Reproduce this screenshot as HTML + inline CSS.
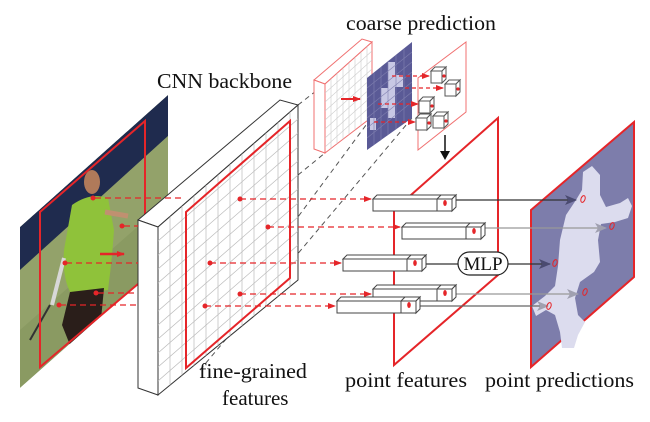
<!DOCTYPE html>
<html><head><meta charset="utf-8"><style>html,body{margin:0;padding:0;background:#fff}svg{display:block}</style></head>
<body>
<svg width="650" height="422" viewBox="0 0 650 422" xmlns="http://www.w3.org/2000/svg" font-family="Liberation Serif, serif">
<defs>
<marker id="ar" markerWidth="8" markerHeight="8" refX="7" refY="4" orient="auto" markerUnits="userSpaceOnUse"><path d="M0,1 L8,4 L0,7 z" fill="#e52529"/></marker>
<marker id="ad" markerWidth="12" markerHeight="10" refX="11" refY="5" orient="auto" markerUnits="userSpaceOnUse"><path d="M0,0 L12,5 L0,10 L3,5 z" fill="#4a4a70"/></marker>
<marker id="ag" markerWidth="12" markerHeight="10" refX="11" refY="5" orient="auto" markerUnits="userSpaceOnUse"><path d="M0,0 L12,5 L0,10 L3,5 z" fill="#a0a0b0"/></marker>
<clipPath id="cf"><polygon points="158,227 298,105 298,280 158,395"/></clipPath>
<clipPath id="cc"><polygon points="325,84 372,42 372,117 325,153"/></clipPath>
<clipPath id="cp"><polygon points="367,78 412,42 412,118 367,150"/></clipPath>
<clipPath id="ph"><polygon points="20,227 168,95 168,257 20,388"/></clipPath>
</defs>

<!-- photo -->
<g clip-path="url(#ph)">
<polygon points="20,227 168,95 168,257 20,388" fill="#8a9a62"/>
<polygon points="20,227 168,95 168,136 20,270" fill="#1f2b4e"/>
<polygon points="20,270 168,136 168,200 20,330" fill="#9aa870" opacity="0.6"/>
<ellipse cx="92" cy="182" rx="8" ry="12" fill="#b07a5a"/>
<path d="M72,205 Q90,192 108,198 L114,230 Q112,260 108,290 L72,295 Q62,280 64,250 Z" fill="#8fc23a"/>
<path d="M70,292 L104,288 L100,330 L72,350 L62,325 Z" fill="#2a1e1a"/>
<line x1="105" y1="212" x2="128" y2="216" stroke="#c09070" stroke-width="5"/>
<line x1="64" y1="258" x2="52" y2="305" stroke="#d8d8d8" stroke-width="4"/>
<line x1="50" y1="305" x2="30" y2="340" stroke="#333" stroke-width="2"/>
</g>
<polygon points="40,212 145,121 145,278 40,367" fill="none" stroke="#e52529" stroke-width="2"/>
<line x1="100" y1="254" x2="124" y2="254" stroke="#e52529" stroke-width="2.5" marker-end="url(#ar)"/>

<!-- gray dashed perspective lines -->
<g stroke="#555" stroke-width="1" stroke-dasharray="5,4" fill="none">
<line x1="298" y1="105" x2="325" y2="84"/>
<line x1="298" y1="175" x2="325" y2="153"/>
<line x1="186" y1="368" x2="372" y2="117"/>
<line x1="200" y1="370" x2="412" y2="118"/>
</g>

<!-- CNN backbone -->
<polygon points="138,220 280,100 298,105 158,227" fill="#fff" stroke="#333" stroke-width="1"/>
<polygon points="138,220 158,227 158,395 138,388" fill="#fff" stroke="#333" stroke-width="1"/>
<polygon points="158,227 298,105 298,280 158,395" fill="#fff" stroke="#333" stroke-width="1"/>
<g clip-path="url(#cf)" stroke="#bbb" stroke-width="0.7">
<line x1="170" y1="100" x2="170" y2="400"/><line x1="182" y1="100" x2="182" y2="400"/><line x1="194" y1="100" x2="194" y2="400"/><line x1="206" y1="100" x2="206" y2="400"/><line x1="218" y1="100" x2="218" y2="400"/><line x1="230" y1="100" x2="230" y2="400"/><line x1="242" y1="100" x2="242" y2="400"/><line x1="254" y1="100" x2="254" y2="400"/><line x1="266" y1="100" x2="266" y2="400"/><line x1="278" y1="100" x2="278" y2="400"/><line x1="290" y1="100" x2="290" y2="400"/>
<line x1="158" y1="241" x2="298" y2="119"/><line x1="158" y1="255" x2="298" y2="133"/><line x1="158" y1="269" x2="298" y2="147"/><line x1="158" y1="283" x2="298" y2="161"/><line x1="158" y1="297" x2="298" y2="175"/><line x1="158" y1="311" x2="298" y2="189"/><line x1="158" y1="325" x2="298" y2="203"/><line x1="158" y1="339" x2="298" y2="217"/><line x1="158" y1="353" x2="298" y2="231"/><line x1="158" y1="367" x2="298" y2="245"/><line x1="158" y1="381" x2="298" y2="259"/>
</g>
<polygon points="186,212 290,121 290,278 186,368" fill="none" stroke="#e52529" stroke-width="2"/>

<!-- coarse block -->
<polygon points="314,80 362,39 372,42 325,84" fill="#fff" stroke="#f07070" stroke-width="1"/>
<polygon points="314,80 325,84 325,153 314,149" fill="#fff" stroke="#f07070" stroke-width="1"/>
<polygon points="325,84 372,42 372,117 325,153" fill="#fff" stroke="#f07070" stroke-width="1"/>
<g clip-path="url(#cc)" stroke="#ccc" stroke-width="0.6">
<line x1="331" y1="40" x2="331" y2="160"/><line x1="337" y1="40" x2="337" y2="160"/><line x1="343" y1="40" x2="343" y2="160"/><line x1="349" y1="40" x2="349" y2="160"/><line x1="355" y1="40" x2="355" y2="160"/><line x1="361" y1="40" x2="361" y2="160"/><line x1="367" y1="40" x2="367" y2="160"/>
<line x1="325" y1="93" x2="372" y2="51"/><line x1="325" y1="102" x2="372" y2="60"/><line x1="325" y1="111" x2="372" y2="69"/><line x1="325" y1="120" x2="372" y2="78"/><line x1="325" y1="129" x2="372" y2="87"/><line x1="325" y1="138" x2="372" y2="96"/><line x1="325" y1="147" x2="372" y2="105"/>
</g>
<line x1="341" y1="99" x2="360" y2="99" stroke="#e52529" stroke-width="2" marker-end="url(#ar)"/>

<!-- coarse prediction -->
<polygon points="367,78 412,42 412,118 367,150" fill="#5a5a96"/>
<g clip-path="url(#cp)" fill="#c8c8e4">
<rect x="388" y="62" width="7" height="26"/><rect x="381" y="88" width="14" height="20"/><rect x="395" y="75" width="8" height="12"/><rect x="370" y="118" width="6" height="12"/><rect x="388" y="108" width="7" height="10"/>
</g>
<g clip-path="url(#cp)" stroke="#8080b0" stroke-width="0.6">
<line x1="374" y1="40" x2="374" y2="160"/><line x1="381" y1="40" x2="381" y2="160"/><line x1="388" y1="40" x2="388" y2="160"/><line x1="396" y1="40" x2="396" y2="160"/><line x1="404" y1="40" x2="404" y2="160"/>
<line x1="367" y1="88" x2="412" y2="52"/><line x1="367" y1="98" x2="412" y2="62"/><line x1="367" y1="108" x2="412" y2="72"/><line x1="367" y1="118" x2="412" y2="82"/><line x1="367" y1="128" x2="412" y2="92"/><line x1="367" y1="138" x2="412" y2="102"/>
</g>
<polygon points="418,150 466,112 466,42 418,78" fill="none" stroke="#f07070" stroke-width="1"/>
<g stroke="#e52529" stroke-width="1.2" stroke-dasharray="4,3" fill="none">
<line x1="392" y1="76" x2="429" y2="76" marker-end="url(#ar)"/>
<line x1="405" y1="88" x2="443" y2="88" marker-end="url(#ar)"/>
<line x1="378" y1="104" x2="418" y2="104" marker-end="url(#ar)"/>
<line x1="374" y1="122" x2="415" y2="122" marker-end="url(#ar)"/>
</g>
<g fill="#fff" stroke="#555" stroke-width="1">
<g transform="translate(431,67)"><rect x="0" y="4" width="11" height="12"/><polygon points="0,4 4,0 15,0 11,4"/><polygon points="11,4 15,0 15,12 11,16"/></g>
<g transform="translate(445,80)"><rect x="0" y="4" width="11" height="12"/><polygon points="0,4 4,0 15,0 11,4"/><polygon points="11,4 15,0 15,12 11,16"/></g>
<g transform="translate(419,97)"><rect x="0" y="4" width="11" height="12"/><polygon points="0,4 4,0 15,0 11,4"/><polygon points="11,4 15,0 15,12 11,16"/></g>
<g transform="translate(416,114)"><rect x="0" y="4" width="11" height="12"/><polygon points="0,4 4,0 15,0 11,4"/><polygon points="11,4 15,0 15,12 11,16"/></g>
<g transform="translate(433,112)"><rect x="0" y="4" width="11" height="12"/><polygon points="0,4 4,0 15,0 11,4"/><polygon points="11,4 15,0 15,12 11,16"/></g>
</g>
<g fill="#e52529"><circle cx="444" cy="76" r="1.6"/><circle cx="458" cy="89" r="1.6"/><circle cx="432" cy="106" r="1.6"/><circle cx="429" cy="123" r="1.6"/><circle cx="446" cy="121" r="1.6"/></g>
<line x1="445" y1="135" x2="445" y2="157" stroke="#111" stroke-width="1.5"/>
<polygon points="440,151 450,151 445,160" fill="#111"/>

<!-- point predictions plane -->
<polygon points="531,210 634,122 634,277 531,367" fill="#7d7dab" stroke="#e52529" stroke-width="2"/>
<polygon fill="#dcdcee" points="583,172 592,166 600,175 600,195 606,207 620,203 628,198 632,206 628,218 615,222 601,224 598,240 600,262 594,272 580,282 575,298 578,315 585,322 578,335 574,348 562,348 560,332 555,315 546,310 536,316 532,306 545,296 555,286 558,266 560,240 566,215 576,200 582,190"/>

<!-- point features plane -->
<polygon points="394,210 498,118 498,275 394,365" fill="none" stroke="#e52529" stroke-width="2"/>

<!-- red dashed lines -->
<g stroke="#e52529" stroke-width="1.2" stroke-dasharray="6,4" fill="none">
<line x1="95" y1="198" x2="185" y2="198"/><line x1="124" y1="226" x2="138" y2="226"/><line x1="66" y1="263" x2="138" y2="263"/><line x1="98" y1="293" x2="138" y2="293"/><line x1="60" y1="305" x2="138" y2="305"/>
<line x1="240" y1="199" x2="371" y2="199" marker-end="url(#ar)"/>
<line x1="268" y1="227" x2="400" y2="227" marker-end="url(#ar)"/>
<line x1="210" y1="263" x2="341" y2="263" marker-end="url(#ar)"/>
<line x1="240" y1="294" x2="371" y2="294" marker-end="url(#ar)"/>
<line x1="205" y1="306" x2="335" y2="306" marker-end="url(#ar)"/>
</g>
<g fill="#e52529"><circle cx="93" cy="198" r="2.5"/><circle cx="122" cy="226" r="2.5"/><circle cx="65" cy="263" r="2.5"/><circle cx="96" cy="293" r="2.5"/><circle cx="59" cy="305" r="2.5"/>
<circle cx="240" cy="199" r="2.5"/><circle cx="268" cy="227" r="2.5"/><circle cx="210" cy="263" r="2.5"/><circle cx="240" cy="294" r="2.5"/><circle cx="205" cy="306" r="2.5"/></g>

<!-- output arrows -->
<line x1="453" y1="200" x2="576" y2="200" stroke="#333" stroke-width="1.2" marker-end="url(#ad)"/>
<line x1="483" y1="228" x2="606" y2="228" stroke="#999" stroke-width="1.2" marker-end="url(#ag)"/>
<line x1="423" y1="264" x2="458" y2="264" stroke="#333" stroke-width="1.2"/>
<line x1="508" y1="264" x2="550" y2="264" stroke="#333" stroke-width="1.2" marker-end="url(#ad)"/>
<line x1="453" y1="294" x2="578" y2="294" stroke="#999" stroke-width="1.2" marker-end="url(#ag)"/>
<line x1="418" y1="306" x2="548" y2="306" stroke="#666" stroke-width="1.2" marker-end="url(#ag)"/>

<!-- feature bars -->
<g fill="#fff" stroke="#444" stroke-width="1">
<g transform="translate(373,195)"><polygon points="0,4 4,0 83,0 79,4"/><polygon points="79,4 83,0 83,12 79,16"/><rect x="0" y="4" width="79" height="12"/><line x1="64" y1="4" x2="64" y2="16"/><line x1="64" y1="4" x2="68" y2="0"/></g>
<g transform="translate(402,223)"><polygon points="0,4 4,0 83,0 79,4"/><polygon points="79,4 83,0 83,12 79,16"/><rect x="0" y="4" width="79" height="12"/><line x1="64" y1="4" x2="64" y2="16"/><line x1="64" y1="4" x2="68" y2="0"/></g>
<g transform="translate(343,255)"><polygon points="0,4 4,0 83,0 79,4"/><polygon points="79,4 83,0 83,12 79,16"/><rect x="0" y="4" width="79" height="12"/><line x1="64" y1="4" x2="64" y2="16"/><line x1="64" y1="4" x2="68" y2="0"/></g>
<g transform="translate(373,285)"><polygon points="0,4 4,0 83,0 79,4"/><polygon points="79,4 83,0 83,12 79,16"/><rect x="0" y="4" width="79" height="12"/><line x1="64" y1="4" x2="64" y2="16"/><line x1="64" y1="4" x2="68" y2="0"/></g>
<g transform="translate(337,297)"><polygon points="0,4 4,0 83,0 79,4"/><polygon points="79,4 83,0 83,12 79,16"/><rect x="0" y="4" width="79" height="12"/><line x1="64" y1="4" x2="64" y2="16"/><line x1="64" y1="4" x2="68" y2="0"/></g>
</g>
<g fill="#e52529"><ellipse cx="445" cy="203" rx="1.8" ry="3"/><ellipse cx="474" cy="231" rx="1.8" ry="3"/><ellipse cx="415" cy="263" rx="1.8" ry="3"/><ellipse cx="445" cy="293" rx="1.8" ry="3"/><ellipse cx="409" cy="305" rx="1.8" ry="3"/></g>

<!-- MLP -->
<rect x="458" y="252" width="50" height="23" rx="11.5" fill="#fff" stroke="#222" stroke-width="1.2"/>
<text x="483" y="270" font-size="19" text-anchor="middle" fill="#111">MLP</text>

<!-- prediction points -->
<g fill="none" stroke="#e52529" stroke-width="1"><ellipse cx="583" cy="199" rx="2" ry="3.5" transform="rotate(20 583 199)"/><ellipse cx="612" cy="226" rx="2" ry="3.5" transform="rotate(20 612 226)"/><ellipse cx="555" cy="263" rx="2" ry="3.5" transform="rotate(20 555 263)"/><ellipse cx="585" cy="292" rx="2" ry="3.5" transform="rotate(20 585 292)"/><ellipse cx="549" cy="306" rx="2" ry="3.5" transform="rotate(20 549 306)"/></g>

<!-- labels -->
<g font-size="21" fill="#111">
<text x="346" y="30" textLength="150" lengthAdjust="spacingAndGlyphs">coarse prediction</text>
<text x="157" y="88" textLength="135" lengthAdjust="spacingAndGlyphs">CNN backbone</text>
<text x="199" y="378" textLength="108" lengthAdjust="spacingAndGlyphs">fine-grained</text>
<text x="222" y="405">features</text>
<text x="345" y="387" textLength="122" lengthAdjust="spacingAndGlyphs">point features</text>
<text x="485" y="387" textLength="149" lengthAdjust="spacingAndGlyphs">point predictions</text>
</g>
</svg>
</body></html>
